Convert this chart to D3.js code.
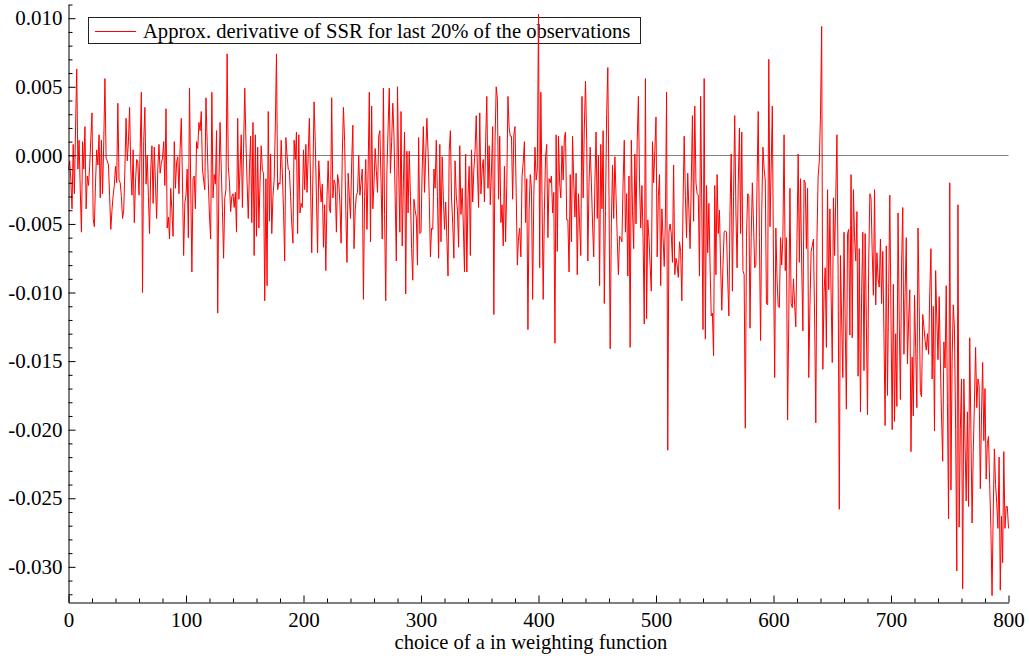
<!DOCTYPE html>
<html><head><meta charset="utf-8">
<script src="https://cdn.jsdelivr.net/npm/d3@7"></script>
<style>html,body{margin:0;padding:0;background:#fff;} svg{display:block;font-family:"Liberation Serif","Times New Roman",serif;}</style>
</head><body><svg id="c" width="1029" height="658"></svg>
<script>
const seriesName = "Approx. derivative of SSR for last 20% of the observations";
const xTitle = "choice of a in weighting function";
const xTicks = [0,100,200,300,400,500,600,700,800];
const xMinorTicks = [20,40,60,80,120,140,160,180,220,240,260,280,320,340,360,380,420,440,460,480,520,540,560,580,620,640,660,680,720,740,760,780];
const yTicks = [-0.030,-0.025,-0.020,-0.015,-0.010,-0.005,0.000,0.005,0.010];
const yMinorTicks = [-0.032,-0.031,-0.029,-0.028,-0.027,-0.026,-0.024,-0.023,-0.022,-0.021,-0.019,-0.018,-0.017,-0.016,-0.014,-0.013,-0.012,-0.011,-0.009,-0.008,-0.007,-0.006,-0.004,-0.003,-0.002,-0.001,0.001,0.002,0.003,0.004,0.006,0.007,0.008,0.009,0.011];
// a = 0 .. 800, one value per a
const derivSSR = [
-.0010,-.0004,-.0018,-.0039,.0008,-.0028,.0020,.0063,-.0010,.0011,-.0025,-.0056,.0010,-.0010,.0021,-.0039,-.0015,-.0022,-.0008,.0012,
.0031,-.0046,-.0052,-.0020,.0004,-.0007,.0015,-.0031,.0011,-.0028,.0010,.0056,-.0002,-.0004,-.0007,-.0030,-.0054,-.0040,-.0029,-.0022,
-.0008,-.0020,.0038,-.0018,-.0020,-.0030,-.0046,-.0040,-.0010,.0027,-.0004,.0010,.0035,-.0010,-.0029,.0004,-.0049,-.0020,-.0003,-.0005,
-.0029,.0005,.0046,-.0100,.0010,.0035,-.0021,.0000,-.0030,-.0057,-.0010,.0007,-.0035,.0006,-.0020,-.0046,-.0010,.0008,-.0013,-.0006,
-.0002,.0010,-.0022,.0034,-.0053,-.0045,-.0061,-.0024,-.0040,-.0059,.0010,-.0024,-.0005,-.0001,-.0028,.0005,.0027,-.0020,-.0073,-.0035,
-.0029,-.0010,-.0060,.0049,-.0020,-.0085,-.0017,-.0015,-.0039,.0010,.0005,.0024,.0018,.0032,-.0010,-.0018,-.0025,.0042,.0010,-.0020,
-.0045,-.0061,.0046,-.0031,-.0014,-.0021,.0018,-.0115,-.0020,.0024,-.0010,-.0040,-.0075,-.0031,-.0025,.0074,-.0008,-.0020,-.0041,-.0030,
-.0028,-.0038,-.0027,-.0056,.0027,-.0032,-.0010,.0015,-.0038,.0005,.0049,.0010,-.0020,-.0046,-.0010,.0014,-.0049,.0024,-.0073,.0015,
-.0059,.0006,-.0053,-.0020,.0007,-.0011,-.0013,-.0106,-.0017,-.0095,.0032,-.0048,.0001,-.0057,-.0030,-.0018,.0020,.0074,-.0025,-.0020,
-.0021,.0011,-.0013,-.0040,-.0077,.0013,.0000,-.0010,-.0011,-.0030,-.0050,-.0064,.0011,-.0003,.0017,-.0057,.0015,-.0042,-.0035,-.0038,
.0004,-.0025,.0008,-.0027,.0000,.0027,-.0020,-.0071,-.0015,.0039,.0010,-.0030,-.0071,-.0004,-.0020,-.0034,-.0021,-.0067,-.0036,-.0084,
-.0030,-.0004,-.0039,-.0042,.0042,-.0031,-.0018,-.0021,-.0056,-.0014,-.0020,-.0035,-.0064,.0000,.0035,.0010,-.0040,-.0078,-.0013,-.0030,
-.0046,-.0005,.0022,-.0068,-.0040,-.0029,-.0027,.0000,-.0029,-.0020,-.0010,-.0105,-.0030,-.0003,-.0054,-.0010,.0046,-.0063,.0036,-.0039,
-.0020,.0005,-.0011,-.0027,.0014,.0018,-.0020,-.0061,.0049,-.0043,-.0106,-.0011,.0020,.0049,-.0013,.0010,.0038,.0014,-.0030,-.0077,
.0050,-.0010,-.0056,.0032,-.0066,-.0020,.0017,-.0101,.0003,-.0042,.0003,-.0030,-.0068,-.0091,-.0032,-.0040,-.0045,-.0080,.0013,-.0057,
-.0056,-.0010,.0021,-.0027,.0000,.0027,.0003,-.0030,-.0074,-.0053,-.0054,-.0010,-.0024,.0011,-.0030,-.0075,.0008,-.0063,-.0001,-.0030,
-.0054,-.0034,-.0060,-.0088,.0003,.0018,-.0031,-.0050,-.0075,-.0004,-.0029,-.0040,-.0067,.0007,-.0043,-.0024,-.0050,-.0085,.0001,-.0085,
-.0030,-.0008,-.0073,.0004,-.0034,-.0010,.0003,.0029,-.0010,-.0038,.0031,-.0028,-.0010,-.0003,-.0034,.0010,.0043,-.0024,.0007,-.0036,
-.0010,.0021,-.0116,.0010,.0050,.0041,-.0032,.0014,-.0049,-.0036,-.0066,-.0008,-.0063,-.0022,.0043,.0020,.0014,.0014,-.0032,.0015,
.0021,-.0027,-.0080,-.0060,-.0053,-.0074,-.0015,-.0005,.0010,-.0049,-.0017,-.0127,-.0040,-.0014,-.0024,-.0105,-.0030,.0006,-.0018,-.0010,
.0103,-.0082,.0046,-.0030,-.0105,-.0040,-.0001,.0008,-.0060,-.0017,-.0020,-.0015,-.0042,-.0027,-.0137,.0015,-.0070,.0014,-.0020,-.0031,
.0007,-.0018,.0013,.0017,-.0047,-.0047,-.0085,-.0014,-.0063,.0014,-.0020,-.0045,-.0013,-.0087,-.0028,-.0050,-.0073,.0043,-.0031,.0020,
.0054,.0011,-.0077,-.0020,.0006,-.0020,-.0050,-.0074,-.0020,.0017,-.0046,.0000,-.0095,.0008,-.0039,.0018,-.0108,-.0040,.0030,.0064,
-.0030,-.0141,-.0050,-.0007,-.0046,-.0001,-.0030,-.0060,-.0087,-.0059,-.0060,-.0063,-.0020,.0011,-.0056,-.0028,-.0088,-.0015,-.0140,.0011,
-.0040,-.0068,.0001,-.0050,.0010,.0043,-.0020,-.0053,-.0022,-.0060,-.0123,.0056,-.0119,-.0047,-.0060,-.0080,-.0099,.0010,-.0020,.0003,
.0028,-.0074,-.0030,-.0014,-.0095,-.0039,-.0060,-.0081,-.0047,.0046,-.0215,-.0056,-.0050,-.0057,-.0078,-.0007,-.0087,-.0075,-.0080,-.0089,
-.0063,-.0070,-.0106,-.0036,.0014,-.0030,-.0060,-.0013,-.0040,-.0068,-.0020,.0029,-.0048,.0036,-.0020,-.0028,-.0029,-.0088,.0043,-.0040,
-.0127,.0056,-.0134,-.0022,-.0071,-.0035,-.0080,-.0117,-.0115,-.0146,-.0022,-.0087,-.0014,-.0057,-.0040,-.0080,-.0113,-.0080,-.0056,-.0055,
-.0056,-.0090,-.0117,-.0040,.0001,-.0099,-.0030,.0029,-.0040,-.0082,-.0020,.0020,-.0057,.0017,-.0084,-.0087,-.0199,-.0060,-.0028,-.0029,
-.0126,-.0060,-.0020,-.0050,-.0082,-.0080,-.0020,.0032,-.0060,-.0135,-.0040,.0006,-.0010,-.0018,-.0108,-.0109,.0070,-.0052,-.0010,.0036,
-.0080,-.0162,-.0053,-.0090,-.0110,-.0111,-.0060,-.0080,-.0059,.0015,-.0084,-.0060,-.0193,-.0120,-.0024,-.0108,-.0111,-.0090,-.0109,-.0125,
-.0060,.0001,-.0078,-.0017,-.0080,-.0128,-.0018,-.0020,-.0068,-.0024,-.0162,-.0110,-.0070,-.0066,-.0061,-.0120,-.0195,-.0060,-.0015,-.0004,
.0030,.0094,-.0156,-.0100,-.0082,-.0140,-.0025,-.0098,-.0039,-.0100,-.0151,-.0031,-.0073,-.0030,.0015,-.0087,-.0258,-.0073,-.0120,-.0162,
-.0056,-.0120,-.0185,-.0057,-.0054,-.0131,-.0014,-.0133,-.0025,-.0060,-.0077,-.0041,-.0161,-.0068,-.0187,-.0100,-.0056,-.0157,-.0057,-.0120,
-.0189,-.0080,-.0028,-.0031,-.0070,-.0102,-.0025,-.0109,-.0071,-.0090,-.0096,-.0061,-.0108,-.0070,-.0130,-.0197,-.0066,-.0175,-.0100,-.0029,
-.0120,-.0200,-.0094,-.0194,-.0130,-.0183,-.0042,-.0120,-.0178,-.0080,-.0038,-.0145,-.0100,-.0060,-.0152,-.0120,-.0098,-.0216,-.0147,-.0190,
-.0102,-.0140,-.0184,-.0053,-.0110,-.0173,-.0176,-.0116,-.0125,-.0135,-.0142,-.0130,-.0145,-.0100,-.0068,-.0163,-.0110,-.0201,-.0084,-.0120,
-.0149,-.0103,-.0150,-.0190,-.0223,-.0136,-.0155,-.0095,-.0180,-.0265,-.0020,-.0244,-.0150,-.0109,-.0126,-.0200,-.0303,-.0036,-.0271,-.0200,
-.0163,-.0316,-.0163,-.0210,-.0252,-.0187,-.0256,-.0133,-.0200,-.0268,-.0216,-.0180,-.0140,-.0184,-.0163,-.0168,-.0243,-.0190,-.0151,-.0208,
-.0170,-.0236,-.0210,-.0205,-.0240,-.0272,-.0321,-.0260,-.0214,-.0240,-.0254,-.0272,-.0220,-.0317,-.0263,-.0297,-.0216,-.0272,-.0256,-.0256,-.0272
];

const svg = d3.select("#c");
const x = d3.scaleLinear().domain([0, 800]).range([68.5, 1008.5]);
const y = d3.scaleLinear().domain([-0.0326, 0.011]).range([602.5, 4.5]);
const fmt = v => (v < 0 ? "-" : "") + Math.abs(v).toFixed(3);
const FONT = 20.6;
const TICKFONT = 21;

// legend (drawn under the data line)
const lg = svg.append("g");
lg.append("rect").attr("x", 88.5).attr("y", 17.5).attr("width", 552).attr("height", 26)
  .attr("fill", "#fff").attr("stroke", "#222").attr("stroke-width", 1);
lg.append("line").attr("x1", 95).attr("x2", 136).attr("y1", 31.5).attr("y2", 31.5)
  .attr("stroke", "#ff0000").attr("stroke-width", 1);
lg.append("text").attr("x", 143).attr("y", 38).attr("font-size", FONT).attr("fill", "#000").text(seriesName);

// zero line
svg.append("line").attr("x1", x(0)).attr("x2", x(800)).attr("y1", Math.round(y(0)) + 0.5).attr("y2", Math.round(y(0)) + 0.5)
  .attr("stroke", "#808080").attr("stroke-width", 1);

// data line
const line = d3.line().x((d, i) => x(i)).y(d => y(d));
svg.append("path").datum(derivSSR).attr("d", line)
  .attr("fill", "none").attr("stroke", "#ff0000").attr("stroke-width", 1).attr("stroke-linejoin", "miter");

// axes
const xAxis = svg.append("g").attr("transform", "translate(0,602.5)")
  .call(d3.axisBottom(x).tickValues(xTicks).tickSize(-7).tickSizeOuter(0).tickPadding(10).tickFormat(d3.format("d")));
const xMinor = svg.append("g").attr("transform", "translate(0,602.5)")
  .call(d3.axisBottom(x).tickValues(xMinorTicks).tickSize(-4).tickSizeOuter(0).tickFormat(""));
xMinor.select(".domain").remove();

const yAxis = svg.append("g").attr("transform", "translate(68.5,0)")
  .call(d3.axisLeft(y).tickValues(yTicks).tickSize(-7).tickSizeOuter(0).tickPadding(6).tickFormat(fmt));
const yMinor = svg.append("g").attr("transform", "translate(68.5,0)")
  .call(d3.axisLeft(y).tickValues(yMinorTicks).tickSize(-4).tickSizeOuter(0).tickFormat(""));
yMinor.select(".domain").remove();

svg.selectAll(".tick text").attr("font-size", TICKFONT).attr("font-family", '"Liberation Serif","Times New Roman",serif').attr("fill", "#000");
svg.selectAll(".tick line, .domain").attr("stroke", "#000");

svg.append("text").attr("x", 531).attr("y", 649).attr("text-anchor", "middle")
  .attr("font-size", FONT).attr("fill", "#000").text(xTitle);
</script>
</body></html>
